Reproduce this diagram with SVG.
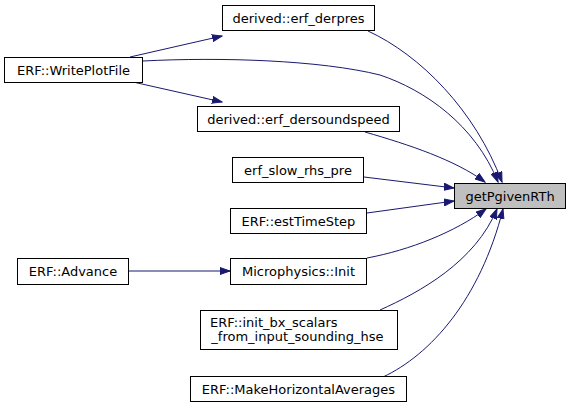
<svg xmlns="http://www.w3.org/2000/svg" width="571" height="408" viewBox="0 0 571 408">
<style>
.n rect{fill:#ffffff;stroke:#000000;stroke-width:1}
.n.hl rect{fill:#bfbfbf}
.n text{font-family:"DejaVu Sans",sans-serif;font-size:13px;fill:#000000;text-anchor:middle}
.e path{fill:none;stroke:#191970;stroke-width:1}
</style>
<defs>
<marker id="ah" markerUnits="userSpaceOnUse" markerWidth="11" markerHeight="8" refX="10" refY="4" orient="auto">
<path d="M0,0.5 L10,4 L0,7.5 z" fill="#191970" stroke="#191970" stroke-width="1"/>
</marker>
</defs>
<g id="edges" class="e">
<path d="M368,31 C420,55 475,110 502,182" marker-end="url(#ah)"/>
<path d="M143,61 C220,57 320,60 380,75 C425,90 475,125 498,182" marker-end="url(#ah)"/>
<path d="M365,132 C410,145 455,160 485,182" marker-end="url(#ah)"/>
<path d="M364,177 L454,188" marker-end="url(#ah)"/>
<path d="M367,213 L454,201" marker-end="url(#ah)"/>
<path d="M367,258 C410,250 455,232 486,209" marker-end="url(#ah)"/>
<path d="M380,310 C420,292 475,262 497,209" marker-end="url(#ah)"/>
<path d="M383,377 C430,355 480,300 503,209" marker-end="url(#ah)"/>
<path d="M130,57 L222,36" marker-end="url(#ah)"/>
<path d="M133,82 L222,102" marker-end="url(#ah)"/>
<path d="M129,271 L230,271" marker-end="url(#ah)"/>
</g>
<g id="getPgivenRTh" class="n hl"><rect x="454.5" y="183.5" width="111" height="25"/><text x="510" y="200.5">getPgivenRTh</text></g>
<g id="erf_derpres" class="n"><rect x="222.5" y="5.5" width="152" height="25"/><text x="298.5" y="22.5">derived::erf_derpres</text></g>
<g id="WritePlotFile" class="n"><rect x="4.5" y="57.5" width="138" height="25"/><text x="73.5" y="74.5">ERF::WritePlotFile</text></g>
<g id="erf_dersoundspeed" class="n"><rect x="197.5" y="106.5" width="202" height="25"/><text x="298.5" y="123.5">derived::erf_dersoundspeed</text></g>
<g id="erf_slow_rhs_pre" class="n"><rect x="232.5" y="157.5" width="131" height="25"/><text x="298" y="174.5">erf_slow_rhs_pre</text></g>
<g id="estTimeStep" class="n"><rect x="230.5" y="208.5" width="136" height="25"/><text x="298.5" y="225.5">ERF::estTimeStep</text></g>
<g id="Advance" class="n"><rect x="17.5" y="258.5" width="111" height="26"/><text x="73" y="276">ERF::Advance</text></g>
<g id="MicrophysicsInit" class="n"><rect x="230.5" y="258.5" width="136" height="26"/><text x="298.5" y="276">Microphysics::Init</text></g>
<g id="init_bx_scalars" class="n"><rect x="200.5" y="310.5" width="197" height="39"/><text x="210" y="327" style="text-anchor:start">ERF::init_bx_scalars</text><text x="297.5" y="341">_from_input_sounding_hse</text></g>
<g id="MakeHorizontalAverages" class="n"><rect x="190.5" y="376.5" width="216" height="25"/><text x="298.5" y="393.5">ERF::MakeHorizontalAverages</text></g>
</svg>
